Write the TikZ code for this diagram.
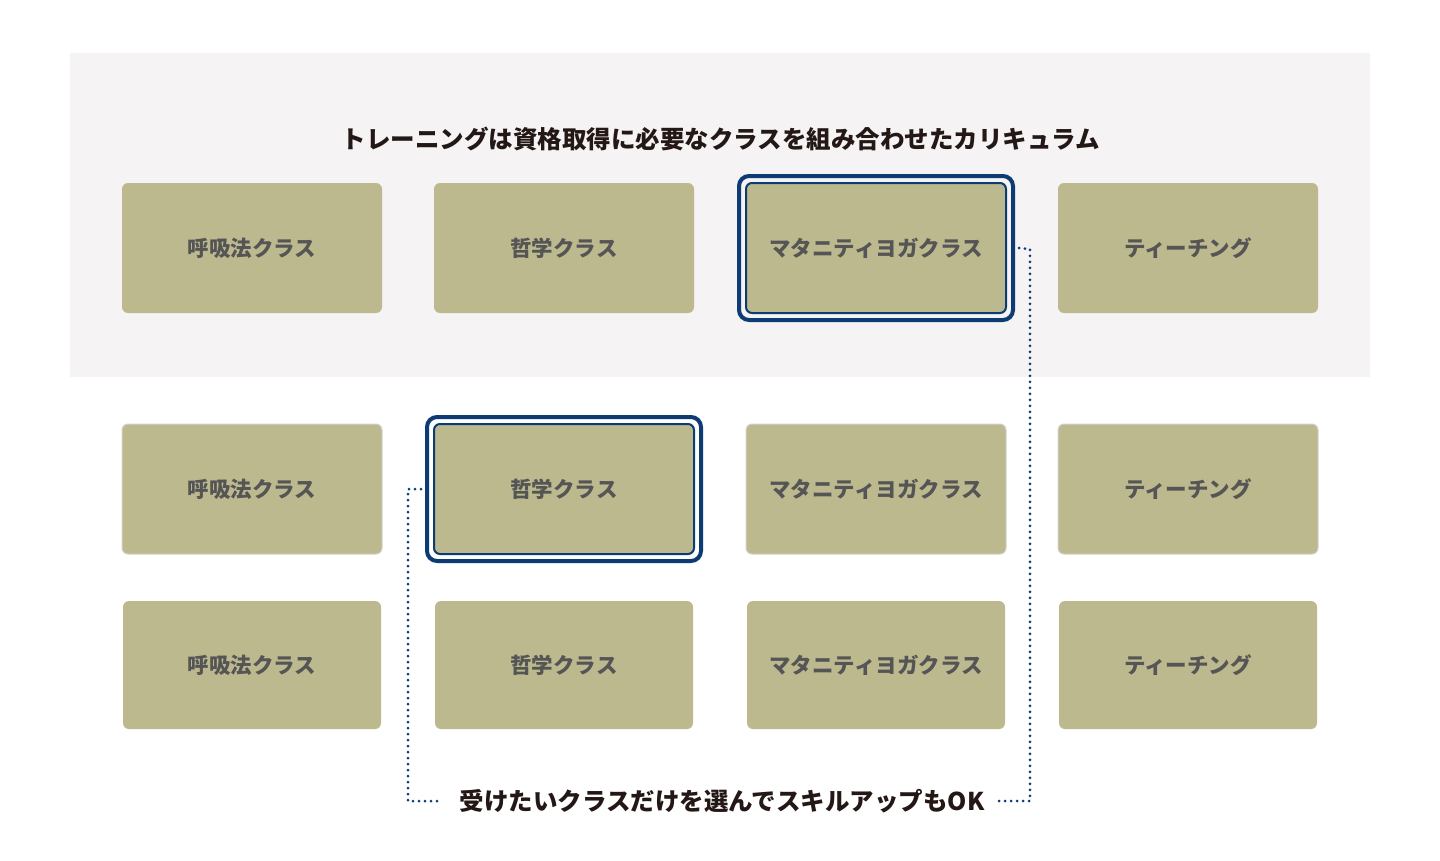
\documentclass[tikz,border=0pt]{standalone}
\usepackage{fontspec}
\setmainfont{Noto Sans CJK JP}
\usetikzlibrary{positioning,fit,calc}
\definecolor{panelgray}{RGB}{245,243,244}
\definecolor{olive}{RGB}{189,185,143}
\definecolor{navy}{RGB}{12,60,115}
\definecolor{boxtext}{RGB}{85,85,85}
\definecolor{titletext}{RGB}{35,24,21}
\definecolor{edgegray}{RGB}{212,210,200}

\begin{document}
\begin{tikzpicture}[x=1pt,y=-1pt,
    classbox/.style={rectangle, rounded corners=6pt, fill=olive, minimum width=260pt, minimum height=130pt,
      inner sep=0pt, text=boxtext, font=\fontsize{21.5}{24}\selectfont\bfseries},
    framedbox/.style={classbox, draw=edgegray, line width=1pt},
    chosenbox/.style={classbox, draw=navy, line width=2pt},
    hilite/.style={draw=navy, line width=4pt, rounded corners=10pt, inner sep=6pt},
    linkline/.style={draw=navy, line width=3pt, line cap=round, dash pattern=on 0pt off 6pt},
    caption/.style={text=titletext, font=\fontsize{24.5}{28}\selectfont\bfseries}]
  \useasboundingbox (0,0) rectangle (1440,860);
  \fill[white] (0,0) rectangle (1440,860);

  % Background panel
  \fill[panelgray] (70,53) rectangle (1370,377);
  \node[caption] (title) at (721,139) {トレーニングは資格取得に必要なクラスを組み合わせたカリキュラム};

  % Row 1
  \node[classbox] (r1c1) at (252,248) {呼吸法クラス};
  \node[classbox] (r1c2) at (564,248) {哲学クラス};
  \node[chosenbox] (r1c3) at (876,248) {マタニティヨガクラス};
  \node[classbox] (r1c4) at (1188,248) {ティーチング};
  \node[hilite, fit=(r1c3)] (h1) {};

  % Row 2
  \node[framedbox] (r2c1) at (252,489) {呼吸法クラス};
  \node[chosenbox] (r2c2) at (564,489) {哲学クラス};
  \node[framedbox] (r2c3) at (876,489) {マタニティヨガクラス};
  \node[framedbox] (r2c4) at (1188,489) {ティーチング};
  \node[hilite, fit=(r2c2)] (h2) {};

  % Row 3
  \node[classbox, minimum width=258pt, minimum height=128pt] (r3c1) at (252,665) {呼吸法クラス};
  \node[classbox, minimum width=258pt, minimum height=128pt] (r3c2) at (564,665) {哲学クラス};
  \node[classbox, minimum width=258pt, minimum height=128pt] (r3c3) at (876,665) {マタニティヨガクラス};
  \node[classbox, minimum width=258pt, minimum height=128pt] (r3c4) at (1188,665) {ティーチング};

  % Bottom caption and links
  \node[caption] (note) at (722,801) {受けたいクラスだけを選んでスキルアップもOK};
  \coordinate (rtop) at (1030,249);
  \coordinate (rbot) at (1030,801);
  \coordinate (ltop) at (408,489);
  \coordinate (lbot) at (408,801);
  \draw[linkline] ($(h1.east)+(4,0)$) -- (rtop) -- (rbot) -- ($(note.east)+(10,0)$);
  \draw[linkline] ($(h2.west)+(-4,0)$) -- (ltop) -- (lbot) -- ($(note.west)+(-16,0)$);
\end{tikzpicture}
\end{document}
